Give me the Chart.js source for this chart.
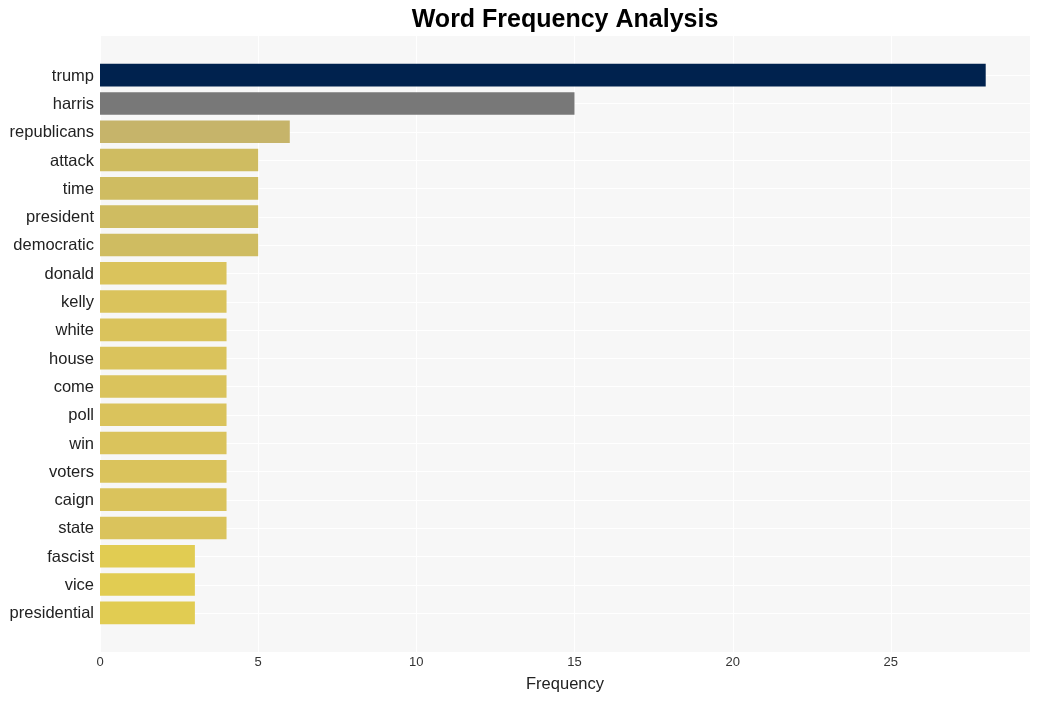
<!DOCTYPE html>
<html><head><meta charset="utf-8">
<script src="https://cdn.jsdelivr.net/npm/chart.js@4"></script>
<style>html,body{margin:0;padding:0;background:#fff}#wrap{width:1040px;height:701px}</style>
</head><body><div id="wrap"><canvas id="c" width="1040" height="701"></canvas></div>
<script>
const categories = ["trump","harris","republicans","attack","time","president","democratic","donald","kelly","white","house","come","poll","win","voters","caign","state","fascist","vice","presidential"];
const frequencies = [28,15,6,5,5,5,5,4,4,4,4,4,4,4,4,4,4,3,3,3];
const barColors = ["#00224e","#787878","#c6b46a","#cfbc61","#cfbc61","#cfbc61","#cfbc61","#dac35c","#dac35c","#dac35c","#dac35c","#dac35c","#dac35c","#dac35c","#dac35c","#dac35c","#dac35c","#e1cc52","#e1cc52","#e1cc52"];
const xTicks = [0,5,10,15,20,25];
const xMax = 29.4;
const titleText = 'Word Frequency Analysis';
const EXT = 25;
const FONT = 'Liberation Sans, Arial, sans-serif';

const bgPlugin = {
  id: 'bg',
  beforeDatasetsDraw(chart) {
    const {ctx, chartArea: a, scales} = chart;
    ctx.save();
    ctx.fillStyle = '#f7f7f7';
    ctx.fillRect(a.left, a.top - EXT, a.right - a.left, a.bottom - a.top + 2*EXT);
    ctx.strokeStyle = '#ffffff';
    ctx.lineWidth = 1;
    xTicks.forEach(v => {
      const x = Math.round(scales.x.getPixelForValue(v)) + 0.5;
      ctx.beginPath(); ctx.moveTo(x, a.top - EXT); ctx.lineTo(x, a.bottom + EXT); ctx.stroke();
    });
    categories.forEach((c, i) => {
      const y = Math.round(scales.y.getPixelForValue(i)) + 0.5;
      ctx.beginPath(); ctx.moveTo(a.left, y); ctx.lineTo(a.right, y); ctx.stroke();
    });
    ctx.restore();
  },
  afterDraw(chart) {
    const {ctx, chartArea: a} = chart;
    ctx.save();
    ctx.fillStyle = '#000';
    ctx.font = 'bold 25px ' + FONT;
    ctx.textAlign = 'center';
    ctx.textBaseline = 'middle';
    ctx.fillText(titleText, (a.left + a.right) / 2, 20);
    ctx.restore();
  }
};

new Chart(document.getElementById('c'), {
  type: 'bar',
  data: {
    labels: categories,
    datasets: [{ data: frequencies, backgroundColor: barColors, barPercentage: 0.8, categoryPercentage: 1.0 }]
  },
  options: {
    indexAxis: 'y',
    responsive: false,
    animation: false,
    devicePixelRatio: 1,
    layout: { padding: { top: 61, right: 10, bottom: 7, left: 10 } },
    plugins: {
      legend: { display: false },
      tooltip: { enabled: false },
      title: { display: false }
    },
    scales: {
      x: {
        type: 'linear', min: 0, max: xMax,
        afterBuildTicks(s) { s.ticks = xTicks.map(v => ({ value: v })); },
        afterFit(s) { s.height = 67; },
        grid: { display: false, drawTicks: false },
        border: { display: false },
        ticks: { color: '#333', padding: 28, font: { family: FONT, size: 13 } },
        title: { display: true, text: 'Frequency', color: '#222', padding: { top: 4, bottom: 0 }, font: { family: FONT, size: 16.5 } }
      },
      y: {
        type: 'category', offset: true,
        afterFit(s) { s.width = 90; },
        grid: { display: false, drawTicks: false },
        border: { display: false },
        ticks: { color: '#222', padding: 6, labelOffset: 1, autoSkip: false, font: { family: FONT, size: 16.5 } }
      }
    }
  },
  plugins: [bgPlugin]
});
</script>
</body></html>
